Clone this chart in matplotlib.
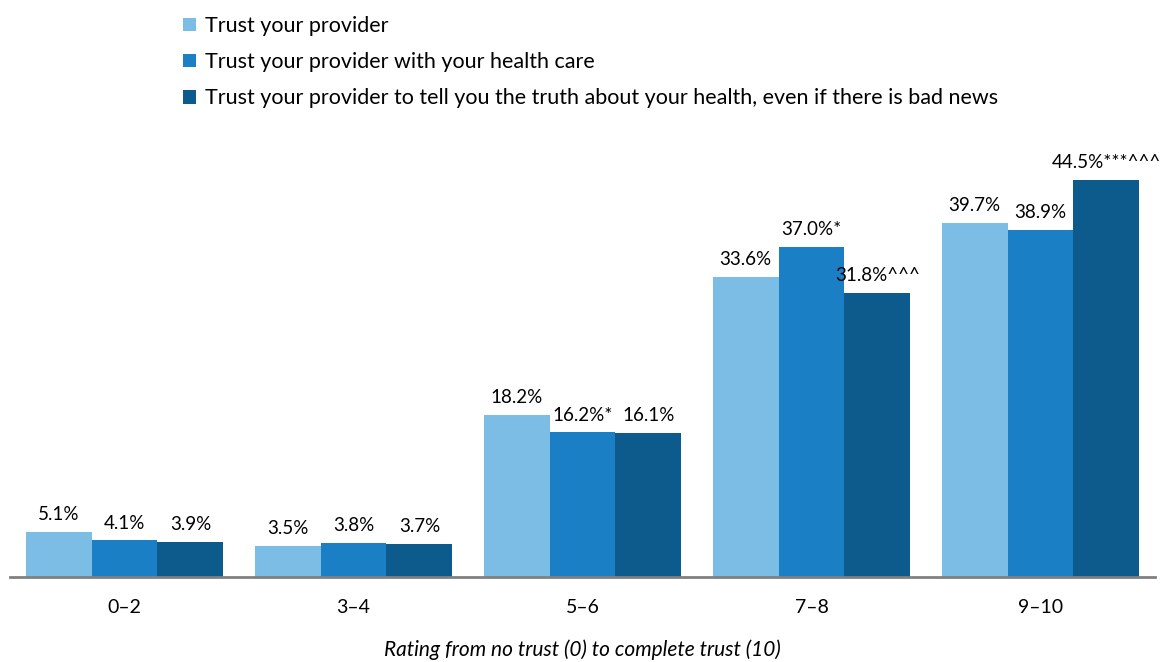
import matplotlib.pyplot as plt
import numpy as np

plt.rcParams['font.family'] = ['Lato', 'DejaVu Sans']

categories = ['0–2', '3–4', '5–6', '7–8', '9–10']
series_names = ['Trust your provider',
                'Trust your provider with your health care',
                'Trust your provider to tell you the truth about your health, even if there is bad news']
trust = [5.1, 3.5, 18.2, 33.6, 39.7]
trust_care = [4.1, 3.8, 16.2, 37.0, 38.9]
trust_truth = [3.9, 3.7, 16.1, 31.8, 44.5]
labels_trust = ['5.1%', '3.5%', '18.2%', '33.6%', '39.7%']
labels_care = ['4.1%', '3.8%', '16.2%*', '37.0%*', '38.9%']
labels_truth = ['3.9%', '3.7%', '16.1%', '31.8%^^^', '44.5%***^^^']

colors = ['#7cbde6', '#1a7fc4', '#0d5a8c']

fig = plt.figure(figsize=(11.64, 6.62), dpi=100)
ax = fig.add_axes([0.0086, 0.1284, 0.9837, 0.6737])

x = np.arange(len(categories))
w = 0.2875
series = [trust, trust_care, trust_truth]
labels = [labels_trust, labels_care, labels_truth]
handles = []
for i, (vals, labs) in enumerate(zip(series, labels)):
    bars = ax.bar(x + (i - 1) * w, vals, w, color=colors[i], label=series_names[i])
    handles.append(bars)
    for b, lab in zip(bars, labs):
        ax.text(b.get_x() + b.get_width() / 2, b.get_height() + 1.0, lab,
                ha='center', va='bottom', fontsize=13.5)

ax.set_xlim(-0.5, 4.5)
ax.set_ylim(0, 50)
ax.set_yticks([])
ax.set_xticks(x)
ax.set_xticklabels(categories, fontsize=14)
ax.tick_params(axis='x', length=0, pad=16)
for s in ['top', 'right', 'left']:
    ax.spines[s].set_visible(False)
ax.spines['bottom'].set_color('#808080')
ax.spines['bottom'].set_linewidth(2)
ax.set_xlabel('Rating from no trust (0) to complete trust (10)', fontsize=15,
              style='italic', labelpad=17)

fig.legend(handles=handles, labels=series_names, loc='upper left',
           bbox_to_anchor=(0.141, 1.005), frameon=False, fontsize=15.5,
           handlelength=0.6, handleheight=0.6, handletextpad=0.4,
           labelspacing=0.75)

fig.savefig('out.png', dpi=100)
